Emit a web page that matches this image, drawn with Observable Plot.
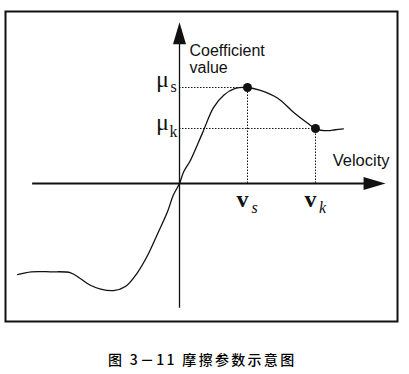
<!DOCTYPE html>
<html><head><meta charset="utf-8">
<script src="https://cdn.jsdelivr.net/npm/d3@7"></script>
<script src="https://cdn.jsdelivr.net/npm/@observablehq/plot@0.6"></script>
<style>
body{margin:0;background:#fff;position:relative;width:409px;height:374px;overflow:hidden;}
#caption{position:absolute;left:108px;top:350px;font-family:"Noto Sans CJK SC";font-size:14px;line-height:18px;letter-spacing:2.3px;color:#000;white-space:nowrap;font-weight:500;}
</style></head><body>
<div id="chart"></div>
<div id="caption">图 3－11 摩擦参数示意图</div>
<script>
// Friction curve: velocity (vs = 1, vk = 2) vs coefficient (mu_s = 1)
const velocity = [-2.38, -2.18, -1.90, -1.60, -1.46, -1.31, -1.16, -0.97, -0.79, -0.62, -0.47, -0.32, -0.18, -0.09, 0, 0.06, 0.16, 0.34, 0.50, 0.65, 0.82, 1.00, 1.19, 1.44, 1.68, 1.88, 2.00, 2.18, 2.29, 2.41];
const coefficient = [-0.95, -0.92, -0.92, -0.93, -0.99, -1.06, -1.10, -1.115, -1.07, -0.93, -0.75, -0.52, -0.30, -0.12, 0, 0.12, 0.24, 0.53, 0.79, 0.92, 0.99, 1.00, 0.97, 0.89, 0.74, 0.63, 0.57, 0.55, 0.56, 0.57];

// Key points
const keyVel = [1.00, 2.00];
const keyCoef = [1.00, 0.573];
const muLabels = ["μ", "μ"];
const muSubs = ["s", "k"];
const vLabels = ["v", "v"];
const vSubs = ["s", "k"];

// Axis extents (data units)
const xAxisExtent = [-2.16, 3.03];
const yAxisExtent = [-1.30, 1.68];
const xAxisTitle = "Velocity";
const yAxisTitle = ["Coefficient", "value"];

const curve = velocity.map((v, i) => ({v, c: coefficient[i]}));
const keys = keyVel.map((v, i) => ({v, c: keyCoef[i], mu: muLabels[i], ms: muSubs[i], vl: vLabels[i], vs: vSubs[i]}));
const tips = [{x: xAxisExtent[1], y: 0, rot: 0}, {x: 0, y: yAxisExtent[1], rot: -90}];

const arrowHead = {draw(ctx) { ctx.moveTo(0, 0); ctx.lineTo(-22, -6.5); ctx.lineTo(-22, 6.5); ctx.closePath(); }};

const ink = "#111";
const serif = "Liberation Serif";
const sans = "Liberation Sans";

const muMarks = (d, dyMu, dySub) => [
  Plot.text([d], {x: 0, y: "c", text: "mu", fontFamily: serif, fontSize: 24, dx: -17, dy: dyMu, fill: ink}),
  Plot.text([d], {x: 0, y: "c", text: "ms", fontFamily: serif, fontSize: 16, dx: -6, dy: dySub, fill: ink})
];

const chart = Plot.plot({
  width: 409, height: 340,
  margin: 0,
  style: {background: "#fff", overflow: "visible"},
  x: {domain: [-179/68, 230/68], axis: null},
  y: {domain: [-157/96, 183/96], axis: null},
  marks: [
    Plot.frame({insetLeft: 5, insetTop: 11, insetRight: 12, insetBottom: 19, stroke: ink, strokeWidth: 2}),
    // axes
    Plot.ruleY([0], {x1: xAxisExtent[0], x2: xAxisExtent[1] - 0.1, stroke: ink, strokeWidth: 1.8}),
    Plot.ruleX([0], {y1: yAxisExtent[0], y2: yAxisExtent[1] - 0.1, stroke: ink, strokeWidth: 1.3}),
    Plot.dot(tips, {x: "x", y: "y", rotate: "rot", symbol: arrowHead, fill: ink, stroke: "none"}),
    // dotted guides
    Plot.ruleY(keys, {y: "c", x1: 0, x2: "v", stroke: ink, strokeWidth: 1, strokeDasharray: "1.5,1.5"}),
    Plot.ruleX(keys, {x: "v", y1: 0, y2: "c", stroke: ink, strokeWidth: 1, strokeDasharray: "1.5,1.5"}),
    // curve
    Plot.line(curve, {x: "v", y: "c", curve: "catmull-rom", stroke: ink, strokeWidth: 1.3}),
    Plot.dot(keys, {x: "v", y: "c", r: 4.5, fill: ink, stroke: "none"}),
    // mu labels
    ...muMarks(keys[0], -8, -1),
    ...muMarks(keys[1], -6, 3),
    // v labels
    Plot.text(keys, {x: "v", y: 0, text: "vl", fontFamily: serif, fontSize: 24, fontWeight: "bold", dx: -5, dy: 16, fill: ink}),
    Plot.text(keys, {x: "v", y: 0, text: "vs", fontFamily: serif, fontSize: 16, fontStyle: "italic", dx: 7, dy: 24, fill: ink}),
    // axis titles
    Plot.text([xAxisTitle], {x: xAxisExtent[1], y: 0, text: d => d, textAnchor: "end", fontFamily: sans, fontSize: 16.5, dx: 4, dy: -23, fill: ink}),
    Plot.text([yAxisTitle[0]], {x: 0, y: yAxisExtent[1], text: d => d, textAnchor: "start", lineAnchor: "top", fontFamily: sans, fontSize: 16, dx: 10, dy: 22, fill: ink}),
    Plot.text([yAxisTitle[1]], {x: 0, y: yAxisExtent[1], text: d => d, textAnchor: "start", lineAnchor: "top", fontFamily: sans, fontSize: 16, dx: 10, dy: 39, fill: ink})
  ]
});
document.getElementById("chart").appendChild(chart);
</script>
</body></html>
